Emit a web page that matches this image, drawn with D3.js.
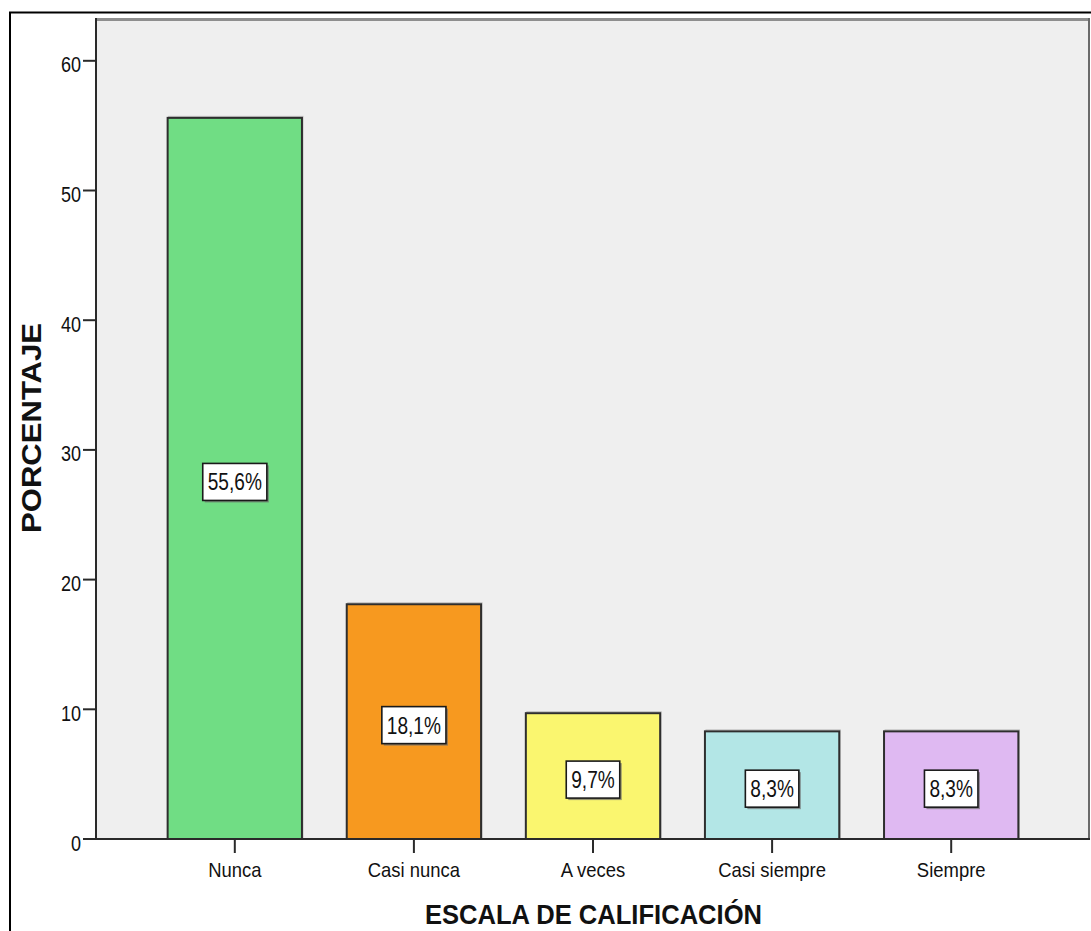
<!DOCTYPE html>
<html>
<head>
<meta charset="utf-8">
<script src="https://cdn.jsdelivr.net/npm/d3@7/dist/d3.min.js"></script>
<style>
  html, body { margin: 0; padding: 0; background: #ffffff; }
  svg { display: block; }
  text { font-family: "Liberation Sans", Arial, sans-serif; fill: #111; }
</style>
</head>
<body>
<svg id="chart" width="1091" height="931"></svg>
<script>
// ---- data ----
const categories = ["Nunca", "Casi nunca", "A veces", "Casi siempre", "Siempre"];
const percentages = [55.6, 18.1, 9.7, 8.3, 8.3];
const valueLabels = ["55,6%", "18,1%", "9,7%", "8,3%", "8,3%"];
const barColors = ["#70dd84", "#f7991f", "#faf66f", "#b3e6e6", "#dfb9f2"];
const yTicks = [0, 10, 20, 30, 40, 50, 60];
const xTitle = "ESCALA DE CALIFICACIÓN";
const yTitle = "PORCENTAJE";

// ---- layout ----
const plot = { left: 96, right: 1090, top: 18, bottom: 839 };
const svg = d3.select("#chart");

// outer frame
svg.append("rect")
  .attr("x", 10).attr("y", 12.5)
  .attr("width", 1200).attr("height", 1000)
  .attr("fill", "#ffffff").attr("stroke", "#000").attr("stroke-width", 2);

const x = d3.scaleBand().domain(categories)
  .range([plot.left, plot.right]).paddingInner(0.25).paddingOuter(0.4);
const y = d3.scaleLinear().domain([0, 63.3]).range([plot.bottom, plot.top]);

// plot background
svg.append("rect")
  .attr("x", plot.left).attr("y", plot.top)
  .attr("width", plot.right - plot.left).attr("height", plot.bottom - plot.top)
  .attr("fill", "#efefef");
svg.append("line")
  .attr("x1", plot.left).attr("x2", plot.right)
  .attr("y1", plot.top + 1.5).attr("y2", plot.top + 1.5)
  .attr("stroke", "#8e8e8e").attr("stroke-width", 3);
svg.append("line")
  .attr("x1", plot.right - 1).attr("x2", plot.right - 1)
  .attr("y1", plot.top).attr("y2", plot.bottom)
  .attr("stroke", "#6a6a6a").attr("stroke-width", 2);

// bars
const bars = svg.append("g");
bars.selectAll("rect.shadow").data(categories).join("rect")
  .attr("x", d => x(d) + 1)
  .attr("y", (d, i) => y(percentages[i]) - 1.5)
  .attr("width", x.bandwidth())
  .attr("height", (d, i) => y(0) - y(percentages[i]))
  .attr("fill", "none").attr("stroke", "#bdbdbd").attr("stroke-width", 1);
bars.selectAll("rect.bar").data(categories).join("rect")
  .attr("class", "bar")
  .attr("x", d => x(d))
  .attr("y", (d, i) => y(percentages[i]))
  .attr("width", x.bandwidth())
  .attr("height", (d, i) => y(0) - y(percentages[i]))
  .attr("fill", (d, i) => barColors[i])
  .attr("stroke", "#2e2e2e").attr("stroke-width", 2);

// value labels
const labelFont = 23, labelSx = 0.83;
const lab = svg.append("g").selectAll("g").data(categories).join("g")
  .attr("transform", (d, i) => {
    const cx = x(d) + x.bandwidth() / 2;
    const cy = (y(percentages[i]) + y(0)) / 2 + 3.5;
    return `translate(${cx},${cy})`;
  });
lab.each(function(d, i) {
  const g = d3.select(this);
  const shadow = g.append("rect");
  const box = g.append("rect");
  const t = g.append("text")
    .attr("text-anchor", "middle")
    .attr("y", 8.5)
    .attr("transform", `scale(${labelSx},1)`)
    .style("font-size", labelFont + "px")
    .text(valueLabels[i]);
  const w = t.node().getComputedTextLength() * labelSx + 10;
  const h = 37;
  shadow.attr("x", -w / 2 + 2).attr("y", -h / 2 + 2).attr("width", w).attr("height", h)
    .attr("fill", "#6e6e6e").attr("opacity", 0.7);
  box.attr("x", -w / 2).attr("y", -h / 2).attr("width", w).attr("height", h)
    .attr("fill", "#ffffff").attr("stroke", "#1a1a1a").attr("stroke-width", 1.6);
});

// y axis
const yAxis = svg.append("g");
yAxis.append("line")
  .attr("x1", plot.left).attr("x2", plot.left)
  .attr("y1", plot.top).attr("y2", plot.bottom)
  .attr("stroke", "#2a2a2a").attr("stroke-width", 2);
const yt = yAxis.selectAll("g").data(yTicks).join("g")
  .attr("transform", d => `translate(${plot.left},${y(d)})`);
yt.append("line").attr("x1", -13).attr("x2", 0)
  .attr("stroke", "#2a2a2a").attr("stroke-width", 2);
yt.append("text")
  .attr("text-anchor", "end")
  .attr("transform", "translate(-15,11.5) scale(0.82,1)")
  .style("font-size", "22px")
  .text(d => d);

// x axis
const xAxis = svg.append("g");
xAxis.append("line")
  .attr("x1", plot.left).attr("x2", plot.right)
  .attr("y1", plot.bottom).attr("y2", plot.bottom)
  .attr("stroke", "#2a2a2a").attr("stroke-width", 2);
const xt = xAxis.selectAll("g").data(categories).join("g")
  .attr("transform", d => `translate(${x(d) + x.bandwidth() / 2},${plot.bottom})`);
xt.append("line").attr("y1", 0).attr("y2", 14)
  .attr("stroke", "#2a2a2a").attr("stroke-width", 2);
xt.append("text")
  .attr("text-anchor", "middle")
  .attr("transform", "translate(0,38) scale(0.9,1)")
  .style("font-size", "20.5px")
  .text(d => d);

// axis titles
svg.append("text")
  .attr("text-anchor", "middle")
  .attr("x", 593.5).attr("y", 924)
  .attr("textLength", 337).attr("lengthAdjust", "spacingAndGlyphs")
  .style("font-size", "28px").style("font-weight", "bold")
  .text(xTitle);
svg.append("text")
  .attr("text-anchor", "middle")
  .attr("transform", "translate(40.5,428) rotate(-90)")
  .attr("textLength", 210).attr("lengthAdjust", "spacingAndGlyphs")
  .style("font-size", "28px").style("font-weight", "bold")
  .text(yTitle);
</script>
</body>
</html>
